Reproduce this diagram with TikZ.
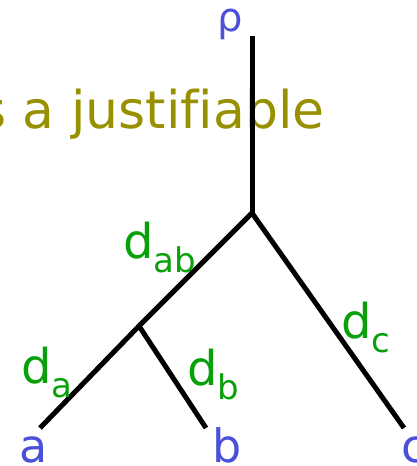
\documentclass[tikz,border=0pt]{standalone}
\usepackage{fontspec}
\setmainfont[Ligatures=NoCommon]{DejaVu Sans}
\definecolor{leafblue}{RGB}{74,80,216}
\definecolor{brgreen}{RGB}{10,160,10}
\definecolor{titleolive}{RGB}{152,144,0}
\newcommand{\brl}[1]{d\raisebox{-14pt}{\fontsize{34}{34}\selectfont #1}}
\tikzset{
  branch/.style={line width=5pt, line cap=butt},
  leaf/.style={text=leafblue, font=\fontsize{46}{46}\selectfont, anchor=base, inner sep=0pt},
  brlen/.style={text=brgreen, font=\fontsize{48}{48}\selectfont, anchor=base west, inner sep=0pt}
}
\begin{document}
\begin{tikzpicture}[x=1pt, y=-1pt]
    \useasboundingbox (0,0) rectangle (416,466);
    \clip (0,0) rectangle (416,466);
    % the line of slide text that runs behind the root edge
    \node[text=titleolive, font=\fontsize{52}{52}\selectfont, anchor=base west, inner sep=0pt]
      (title) at (-21,128) {s a justifiable};
    % branch points and leaf tips
    \coordinate (top) at (252,36);
    \coordinate (r)   at (252,213);
    \coordinate (ab)  at (139,326);
    \coordinate (ta)  at (40,428);
    \coordinate (tb)  at (206,428);
    \coordinate (tc)  at (404,428);
    \draw[branch] (top) -- (r);
    \draw[branch] (r) -- (ab);
    \draw[branch] (r) -- (tc);
    \draw[branch] (ab) -- (ta);
    \draw[branch] (ab) -- (tb);
    % root and leaf names
    \node[leaf, font=\fontsize{40}{40}\selectfont] (rho) at (230,31) {ρ};
    \node[leaf] (a) at (34,462) {a};
    \node[leaf] (b) at (227,462) {b};
    \node[leaf, anchor=base west] (c) at (401,462) {c};
    % branch lengths
    \node[brlen] (dab) at (123,258) {\brl{ab}};
    \node[brlen] (da)  at (21,383)  {\brl{a}};
    \node[brlen] (db)  at (187,385) {\brl{b}};
    \node[brlen] (dc)  at (341,338) {\brl{c}};
  \end{tikzpicture}
\end{document}
